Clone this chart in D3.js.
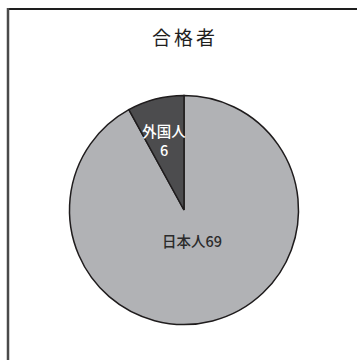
<!DOCTYPE html>
<html>
<head>
<meta charset="utf-8">
<script src="https://cdn.jsdelivr.net/npm/d3@7"></script>
<style>
  html, body { margin: 0; padding: 0; background: #fff; }
  svg { display: block; }
</style>
</head>
<body>
<svg id="chart" width="357" height="360"></svg>
<script>
// 合格者の内訳
const categories = ["日本人", "外国人"];
const values = [69, 6];
const sliceColors = ["#b1b2b5", "#4c4c4e"];
const labelColors = ["#2b2b2b", "#ffffff"];
const title = "合格者";

const width = 357, height = 360;
const cx = 184, cy = 210, radius = 114.5;

const svg = d3.select("#chart");

// frame (top and left edges visible)
svg.append("line").attr("x1", 7).attr("x2", width).attr("y1", 9).attr("y2", 9)
  .attr("stroke", "#1e1e1e").attr("stroke-width", 2);
svg.append("line").attr("x1", 8).attr("x2", 8).attr("y1", 8).attr("y2", height)
  .attr("stroke", "#4a4a4a").attr("stroke-width", 2.5);

svg.append("text")
  .attr("x", cx + 1).attr("y", 45)
  .attr("text-anchor", "middle")
  .attr("font-family", "'Noto Sans CJK JP', sans-serif")
  .attr("font-size", 19)
  .attr("letter-spacing", 3)
  .attr("fill", "#1e1e1e")
  .text(title);

const data = categories.map((c, i) => ({ name: c, value: values[i], i }));

// clockwise from 12 o'clock: 日本人 first, 外国人 ends at the top
const pie = d3.pie().sort(null).value(d => d.value);
const arcs = pie(data);
const arc = d3.arc().innerRadius(0).outerRadius(radius);

const g = svg.append("g").attr("transform", `translate(${cx},${cy})`);
g.selectAll("path").data(arcs).join("path")
  .attr("d", arc)
  .attr("fill", d => sliceColors[d.data.i])
  .attr("stroke", "#1f1c1d")
  .attr("stroke-width", 1.5)
  .attr("stroke-linejoin", "miter");

// narrow latin digits, CJK glyphs fall back to Noto
const font = "'Liberation Sans Narrow', 'Noto Sans CJK JP', sans-serif";

// 日本人 label
const jp = arcs[0];
g.append("text")
  .attr("x", 8).attr("y", 37)
  .attr("text-anchor", "middle")
  .attr("font-family", font)
  .attr("font-size", 14.5)
  .attr("font-weight", 500)
  .attr("fill", labelColors[0])
  .text(jp.data.name + jp.data.value);

// 外国人 label (two lines)
const fg = arcs[1];
const fgText = g.append("text")
  .attr("text-anchor", "middle")
  .attr("font-family", font)
  .attr("font-size", 14.5)
  .attr("font-weight", 500)
  .attr("fill", labelColors[1]);
fgText.append("tspan").attr("x", -20).attr("y", -73).text(fg.data.name);
fgText.append("tspan").attr("x", -20).attr("y", -54).text(fg.data.value);
</script>
</body>
</html>
